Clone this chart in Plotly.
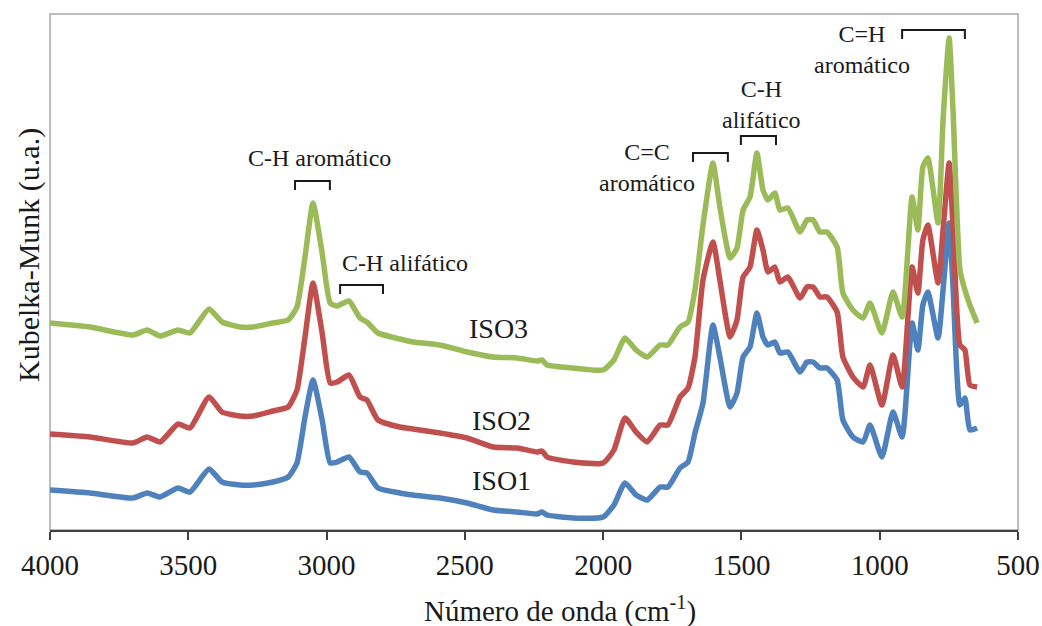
import plotly.graph_objects as go

# wavenumber grid (cm-1), shared by the three spectra
wavenumber = [
    4000, 3855, 3700, 3649, 3602, 3537, 3494, 3425, 3378, 3313,
    3266, 3194, 3139, 3107, 3078, 3049, 3016, 2987, 2962, 2919,
    2879, 2854, 2814, 2735, 2688, 2590, 2492, 2398, 2311, 2239,
    2221, 2203, 2109, 2000, 1961, 1921, 1881, 1841, 1794, 1766,
    1722, 1693, 1668, 1639, 1603, 1578, 1541, 1516, 1494, 1469,
    1444, 1422, 1404, 1379, 1361, 1332, 1288, 1263, 1241, 1216,
    1191, 1154, 1133, 1097, 1060, 1035, 992, 952, 919, 883,
    862, 844, 826, 789, 771, 749, 735, 710, 692, 674,
    648,
]

iso3 = [
    207, 203, 195, 200, 194, 200, 197, 221, 208, 203,
    203, 207, 210, 223, 273, 327, 277, 227, 224, 229,
    212, 208, 197, 191, 188, 185, 178, 173, 172, 169,
    170, 165, 162, 160, 170, 192, 180, 173, 185, 185,
    203, 208, 240, 305, 367, 323, 272, 282, 320, 333,
    377, 340, 330, 337, 320, 322, 298, 310, 310, 298,
    298, 283, 237, 220, 212, 227, 197, 238, 213, 333,
    300, 363, 372, 307, 410, 492, 420, 260, 240, 225,
    207,
]

iso2 = [
    96, 93, 87, 93, 88, 106, 102, 133, 118, 114,
    114, 119, 123, 140, 193, 247, 197, 147, 148, 155,
    133, 130, 110, 103, 101, 97, 92, 83, 82, 78,
    79, 73, 68, 67, 80, 112, 98, 88, 105, 105,
    133, 142, 173, 250, 288, 250, 193, 210, 253, 263,
    300, 280, 258, 263, 248, 253, 232, 243, 243, 233,
    233, 218, 173, 153, 143, 165, 125, 175, 143, 263,
    237, 290, 305, 247, 300, 367, 303, 185, 180, 145,
    143,
]

iso1 = [
    40, 37, 32, 37, 33, 42, 38, 61, 48, 45,
    45, 48, 53, 67, 113, 150, 110, 67, 68, 73,
    58, 57, 42, 37, 35, 32, 27, 20, 18, 16,
    18, 15, 12, 13, 25, 47, 35, 30, 43, 43,
    62, 68, 97, 127, 205, 173, 123, 137, 173, 183,
    217, 193, 185, 188, 177, 178, 158, 168, 168, 162,
    162, 150, 110, 93, 88, 105, 73, 118, 93, 207,
    180, 225, 238, 192, 240, 307, 243, 125, 132, 100,
    102,
]

series_names = ["ISO1", "ISO2", "ISO3"]
series_colors = ["#4F81BD", "#C0504D", "#9BBB59"]

# band labels: text, text position (wn, y), bracket (wn start, wn end, y)
band_texts = ["C-H aromático", "C-H alifático", "C=C<br>aromático",
              "C-H<br>alifático", "C=H<br>aromático"]
band_text_x = [3024, 2716, 1841, 1426, 1064]
band_text_y = [372, 267, 363, 426, 481]
bracket_x0 = [3114, 2951, 1675, 1502, 919]
bracket_x1 = [2988, 2796, 1549, 1375, 692]
bracket_y = [349, 245, 377, 394, 500]

label_x = [2366, 2366, 2380]
label_y = [50, 110, 202]

FONT = "Liberation Serif, Times New Roman, serif"
INK = "#1a1a1a"

fig = go.Figure()
for name, color, values in zip(series_names, series_colors, [iso1, iso2, iso3]):
    fig.add_trace(go.Scatter(
        x=wavenumber, y=values, name=name, mode="lines",
        line=dict(color=color, width=5.5, shape="spline", smoothing=0.5),
        showlegend=False,
    ))

annotations = []
shapes = []
for text, tx, ty, x0, x1, by in zip(band_texts, band_text_x, band_text_y,
                                     bracket_x0, bracket_x1, bracket_y):
    annotations.append(dict(
        x=tx, y=ty, xref="x", yref="y", text=text, showarrow=False,
        font=dict(size=24, color=INK, family=FONT), align="center",
    ))
    shapes.append(dict(
        type="path", xref="x", yref="y",
        path=f"M {x0},{by - 9} L {x0},{by} L {x1},{by} L {x1},{by - 9}",
        line=dict(color=INK, width=2),
    ))

for name, lx, ly in zip(series_names, label_x, label_y):
    annotations.append(dict(
        x=lx, y=ly, xref="x", yref="y", text=name, showarrow=False,
        font=dict(size=28, color=INK, family=FONT),
    ))

# axis titles
annotations.append(dict(
    x=0.527, y=-0.155, xref="paper", yref="paper", showarrow=False,
    xanchor="center", yanchor="middle",
    text="Número de onda (cm<sup>-1</sup>)", font=dict(size=29, color=INK, family=FONT),
))
annotations.append(dict(
    x=-0.0217, y=0.533, xref="paper", yref="paper", showarrow=False, textangle=-90,
    xanchor="center", yanchor="middle",
    text="Kubelka-Munk (u.a.)", font=dict(size=30, color=INK, family=FONT),
))

# light grey frame round the plot area
shapes.append(dict(
    type="rect", xref="paper", yref="paper", x0=0, y0=0, x1=1, y1=1,
    line=dict(color="#A6A6A6", width=1.5), layer="below",
))

fig.update_layout(
    width=1042, height=626,
    paper_bgcolor="white", plot_bgcolor="white",
    margin=dict(l=50, r=24, t=14, b=96),
    font=dict(family=FONT, color=INK, size=24),
    annotations=annotations,
    shapes=shapes,
    xaxis=dict(
        range=[4000, 500], tickvals=[4000, 3500, 3000, 2500, 2000, 1500, 1000, 500],
        ticks="outside", ticklen=8, tickcolor="#404040", tickwidth=1.5,
        showline=True, linecolor="#404040", linewidth=1.5,
        showgrid=False, zeroline=False,
        tickfont=dict(size=29, family=FONT, color=INK),
        automargin=False,
    ),
    yaxis=dict(
        range=[0, 516], showticklabels=False, ticks="",
        showline=False, showgrid=False, zeroline=False,
        automargin=False,
    ),
)

fig.write_html("out.html", config={"displayModeBar": False},
               post_script="document.body.style.margin='0';")
